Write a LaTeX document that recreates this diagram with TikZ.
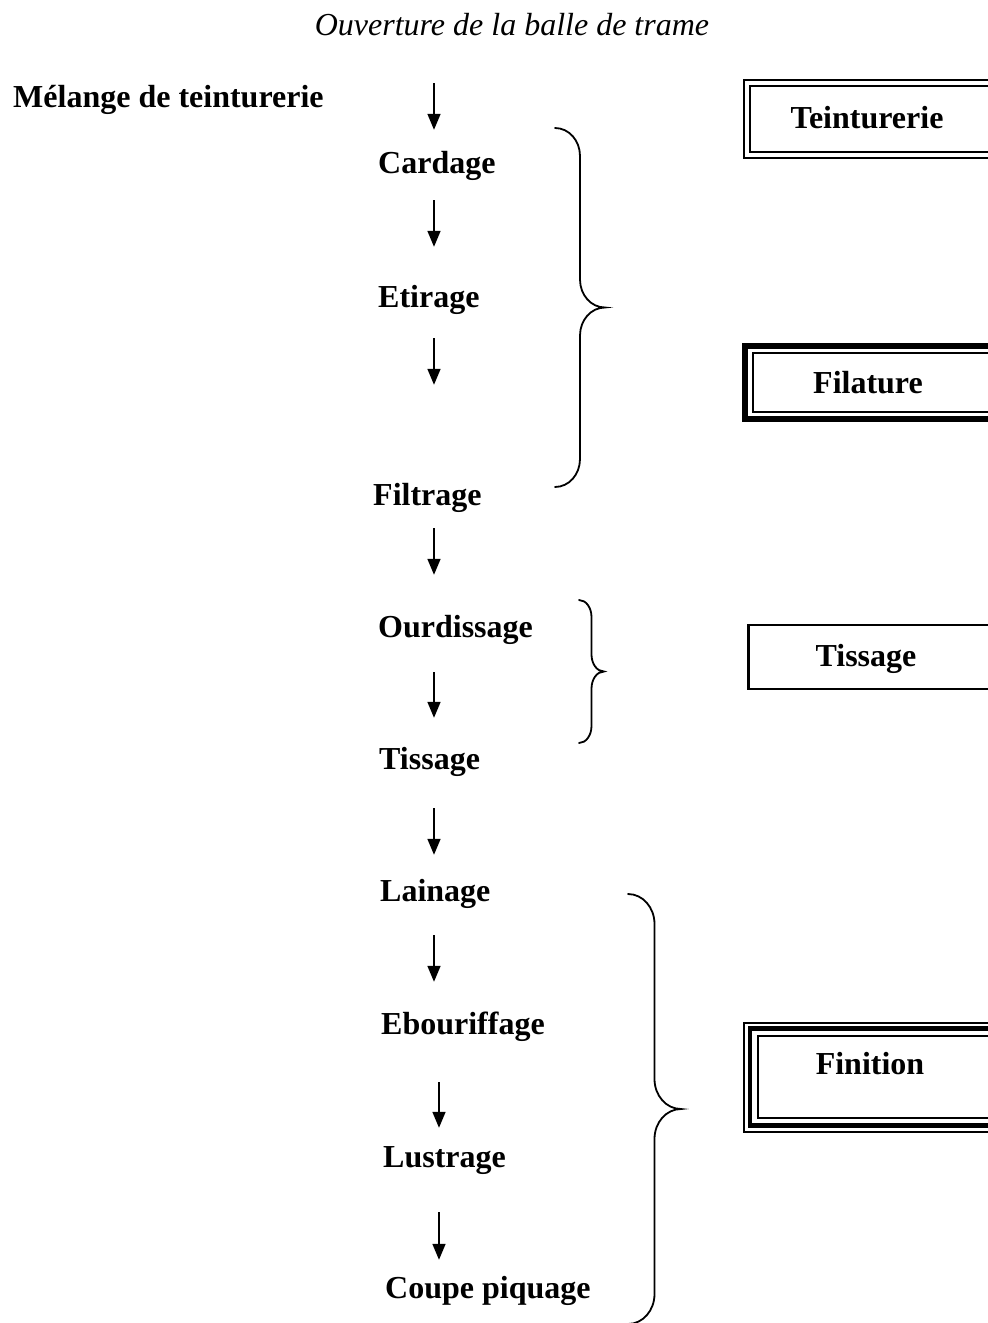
\documentclass[tikz,border=0pt]{standalone}
\usepackage{fontspec}
\setmainfont{Liberation Serif}
\usetikzlibrary{arrows.meta}
\tikzset{etape/.style={font=\fontsize{32}{38}\selectfont\bfseries, inner sep=0pt,
                       text height=22pt, text depth=7pt, anchor=base west},
         titre/.style={etape, font=\fontsize{32}{38}\selectfont\itshape, anchor=base},
         service/.style={etape, anchor=base},
         fleche/.style 2 args={-{Triangle[length=16pt,width=13pt]}, line width=1.6pt,
                               shorten <=#1pt, shorten >=#2pt},
         trait/.style={line width=1.8pt, line cap=round},
         }
\newcommand\accolade[5]{%
  \draw[trait] (#1,#2) .. controls ({#1+0.28*#4},#2) and ({#1+#4/2},{#2+0.45*#5}) .. ({#1+#4/2},{#2+#5})
    -- ({#1+#4/2},{(#2+#3)/2-#5})
    .. controls ({#1+#4/2},{(#2+#3)/2-0.45*#5}) and ({#1+0.72*#4},{(#2+#3)/2}) .. ({#1+#4},{(#2+#3)/2})
    .. controls ({#1+0.72*#4},{(#2+#3)/2}) and ({#1+#4/2},{(#2+#3)/2+0.45*#5}) .. ({#1+#4/2},{(#2+#3)/2+#5})
    -- ({#1+#4/2},{#3-#5})
    .. controls ({#1+#4/2},{#3-0.45*#5}) and ({#1+0.28*#4},#3) .. (#1,#3);}

\begin{document}
\begin{tikzpicture}[x=1pt, y=-1pt]
\useasboundingbox (0,0) rectangle (988,1323);
\clip (0,0) rectangle (988,1323);

\node[titre] (ouverture) at (512,35) {Ouverture de la balle de trame};
\node[etape] (melange) at (13,107) {Mélange de teinturerie};
\node[etape] (cardage) at (378,173) {Cardage};
\node[etape] (etirage) at (378,307) {Etirage};
\node[etape] (filtrage) at (373,505) {Filtrage};
\node[etape] (ourdissage) at (378,637) {Ourdissage};
\node[etape] (tissage) at (379,769) {Tissage};
\node[etape] (lainage) at (380,901) {Lainage};
\node[etape] (ebouriffage) at (381,1034) {Ebouriffage};
\node[etape] (lustrage) at (383,1167) {Lustrage};
\node[etape] (coupe) at (385,1298) {Coupe piquage};

\coordinate (axe) at (434,0);
\coordinate (axeb) at (439,0);
\draw[fleche={41}{21}] (ouverture.south -| axe) -- (cardage.north -| axe);
\draw[fleche={20}{38}] (cardage.south -| axe) -- (etirage.north -| axe);
\draw[fleche={24}{98}] (etirage.south -| axe) -- (filtrage.north -| axe);
\draw[fleche={16}{40}] (filtrage.south -| axe) -- (ourdissage.north -| axe);
\draw[fleche={28}{29}] (ourdissage.south -| axe) -- (tissage.north -| axe);
\draw[fleche={32}{24}] (tissage.south -| axe) -- (lainage.north -| axe);
\draw[fleche={27}{30}] (lainage.south -| axe) -- (ebouriffage.north -| axe);
\draw[fleche={41}{17}] (ebouriffage.south -| axeb) -- (lustrage.north -| axeb);
\draw[fleche={38}{16}] (lustrage.south -| axeb) -- (coupe.north -| axeb);

\accolade{555}{128}{487}{50}{28}
\accolade{579}{600}{743}{25}{17}
\accolade{628}{894}{1324}{53}{30}

\node[service] (teinturerie) at (867,128) {Teinturerie};
\draw[line width=2pt, double, double distance=4pt] (747,83) rectangle (1000,155);

\node[service] (filature) at (868,393) {Filature};
\draw[line width=6pt] (745,346) rectangle (1000,418.5);
\draw[line width=2pt] (752.5,353) rectangle (1000,411.5);

\node[service] (tissageb) at (866,666) {Tissage};
\draw[line width=2.5pt] (748.5,625) rectangle (1000,689);

\node[service] (finition) at (870,1074) {Finition};
\draw[line width=2pt] (744,1023) rectangle (1000,1132);
\draw[line width=4.5pt] (750,1028.5) rectangle (1000,1125.5);
\draw[line width=2pt] (758,1036) rectangle (1000,1118);
\end{tikzpicture}
\end{document}
